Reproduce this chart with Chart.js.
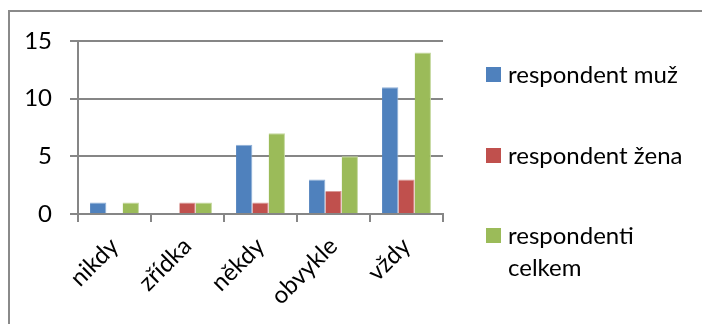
<!DOCTYPE html>
<html>
<head>
<meta charset="utf-8">
<script src="https://cdn.jsdelivr.net/npm/chart.js@4/dist/chart.umd.min.js"></script>
<style>
  html, body { margin: 0; padding: 0; background: #fff; }
  #wrap { position: relative; width: 702px; height: 324px; overflow: hidden; }
  #frame { position: absolute; left: 8px; top: 10px; right: -4px; bottom: -4px;
           border-left: 2px solid #8a8a8a; border-top: 2px solid #8a8a8a; }
  canvas { position: absolute; left: 0; top: 0; }
  #legend { position: absolute; left: 486px; top: 0; width: 210px;
            font-family: Lato, sans-serif; font-size: 24px; color: #000; }
  .item { position: absolute; left: 0; display: flex; align-items: flex-start; }
  .box { width: 15px; height: 15px; margin-top: 9px; margin-right: 7px; flex: none; }
  .txt { line-height: 32px; width: 180px; }
</style>
</head>
<body>
<div id="wrap">
  <div id="frame"></div>
  <canvas id="c" width="702" height="324"></canvas>
  <div id="legend"></div>
</div>
<script>
// Answers per frequency category
const categories = ['nikdy', 'zřídka', 'někdy', 'obvykle', 'vždy'];
const muzi = [1, 0, 6, 3, 11];
const zeny = [0, 1, 1, 2, 3];
const celkem = [1, 1, 7, 5, 14];
const seriesNames = ['respondent muž', 'respondent žena', 'respondenti celkem'];
const seriesColors = ['#4F81BD', '#C0504D', '#9BBB59'];
const seriesEdges = ['#8FB0D8', '#DA9896', '#C4D89E'];
const yTicks = [0, 5, 10, 15];

const FONT = 'Lato, sans-serif';
const GRID = '#868686';

const chart = new Chart(document.getElementById('c'), {
  type: 'bar',
  data: {
    labels: categories,
    datasets: [muzi, zeny, celkem].map((vals, i) => ({
      label: seriesNames[i],
      data: vals,
      backgroundColor: seriesColors[i],
      borderColor: seriesEdges[i],
      borderWidth: { top: 1, right: 1, left: 0, bottom: 0 },
      borderSkipped: 'bottom',
      categoryPercentage: 0.67,
      barPercentage: 1.0
    }))
  },
  options: {
    responsive: false,
    animation: false,
    devicePixelRatio: 1,
    layout: { padding: { top: 41, right: 259, left: 0, bottom: 0 } },
    plugins: { legend: { display: false }, tooltip: { enabled: false } },
    scales: {
      x: {
        grid: { display: true, drawOnChartArea: false, drawTicks: true, tickLength: 8,
                offset: true, color: GRID, lineWidth: 2 },
        border: { display: true, color: GRID, width: 2 },
        ticks: { minRotation: 45, maxRotation: 45, padding: 10, color: '#000',
                 font: { family: FONT, size: 24 } },
        afterFit: (s) => { s.height = 110; }
      },
      y: {
        min: 0, max: 15,
        afterBuildTicks: (s) => { s.ticks = yTicks.map(v => ({ value: v })); },
        grid: { color: GRID, lineWidth: 2, tickLength: 8, drawTicks: true },
        border: { display: true, color: GRID, width: 2 },
        ticks: { padding: 18, color: '#000', font: { family: FONT, size: 24 } },
        afterFit: (s) => { s.width = 78; }
      }
    }
  }
});

// Legend built from the chart's own datasets
const legend = document.getElementById('legend');
const legendTops = [58, 139, 219];
chart.data.datasets.forEach((ds, i) => {
  const item = document.createElement('div');
  item.className = 'item';
  item.style.top = legendTops[i] + 'px';
  const box = document.createElement('div');
  box.className = 'box';
  box.style.background = ds.backgroundColor;
  const txt = document.createElement('div');
  txt.className = 'txt';
  txt.textContent = ds.label;
  item.appendChild(box);
  item.appendChild(txt);
  legend.appendChild(item);
});
</script>
</body>
</html>
